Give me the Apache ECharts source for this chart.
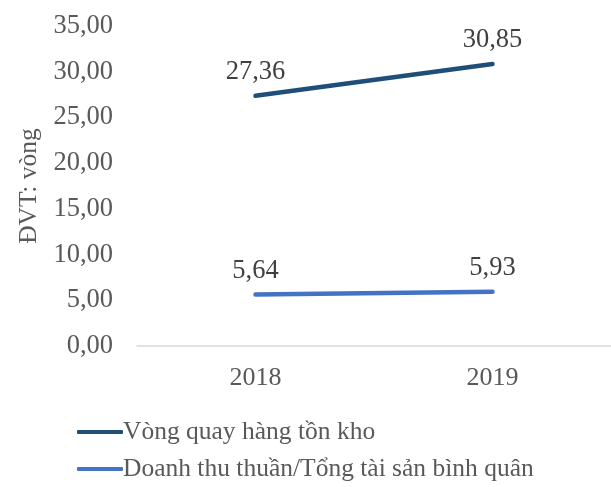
<!DOCTYPE html>
<html>
<head>
<meta charset="utf-8">
<script src="https://cdn.jsdelivr.net/npm/echarts@6/dist/echarts.min.js"></script>
<style>
  html, body { margin: 0; padding: 0; background: #fff; }
  #main { width: 611px; height: 487px; }
</style>
</head>
<body>
<div id="main"></div>
<script>
// du lieu
var years = ['2018', '2019'];
var vongQuayHTK = [27.36, 30.85];
var doanhThuTS = [5.64, 5.93];
var seriesNames = ['Vòng quay hàng tồn kho', 'Doanh thu thuần/Tổng tài sản bình quân'];

var font = '"Liberation Serif", "Times New Roman", serif';
function fmt(v) { return v.toFixed(2).replace('.', ','); }

var chart = echarts.init(document.getElementById('main'));
chart.setOption({
  animation: false,
  backgroundColor: '#fff',
  grid: { left: 137, right: -10, top: 26, bottom: 141 },
  legend: {
    orient: 'vertical',
    left: 72,
    top: 414,
    itemWidth: 46,
    itemHeight: 4,
    itemGap: 11,
    icon: 'roundRect',
    textStyle: { fontFamily: font, fontSize: 25.5, color: '#595959', padding: [0, 0, 0, -5] },
    data: seriesNames
  },
  xAxis: {
    type: 'category',
    data: years,
    axisLine: { lineStyle: { color: '#d9d9d9', width: 1.5 } },
    axisTick: { show: false },
    axisLabel: { fontFamily: font, fontSize: 26, color: '#595959', margin: 19 }
  },
  yAxis: {
    type: 'value',
    min: 0,
    max: 35,
    interval: 5,
    name: 'ĐVT: vòng',
    nameLocation: 'middle',
    nameGap: 91,
    nameTextStyle: { fontFamily: font, fontSize: 25.5, color: '#595959' },
    splitLine: { show: false },
    axisLine: { show: false },
    axisTick: { show: false },
    axisLabel: { fontFamily: font, fontSize: 26.5, color: '#595959', margin: 24, formatter: fmt }
  },
  series: [
    {
      name: seriesNames[0],
      type: 'line',
      data: vongQuayHTK,
      symbol: 'circle',
      symbolSize: 0.1,
      lineStyle: { color: '#1f4e79', width: 4.5, cap: 'round' },
      itemStyle: { color: '#1f4e79' },
      label: {
        show: true, position: 'top', distance: 10,
        fontFamily: font, fontSize: 26.5, color: '#404040',
        formatter: function (p) { return fmt(p.value); }
      }
    },
    {
      name: seriesNames[1],
      type: 'line',
      data: doanhThuTS,
      symbol: 'circle',
      symbolSize: 0.1,
      lineStyle: { color: '#4472c4', width: 4.5, cap: 'round' },
      itemStyle: { color: '#4472c4' },
      label: {
        show: true, position: 'top', distance: 10,
        fontFamily: font, fontSize: 26.5, color: '#404040',
        formatter: function (p) { return fmt(p.value); }
      }
    }
  ]
});
</script>
</body>
</html>
